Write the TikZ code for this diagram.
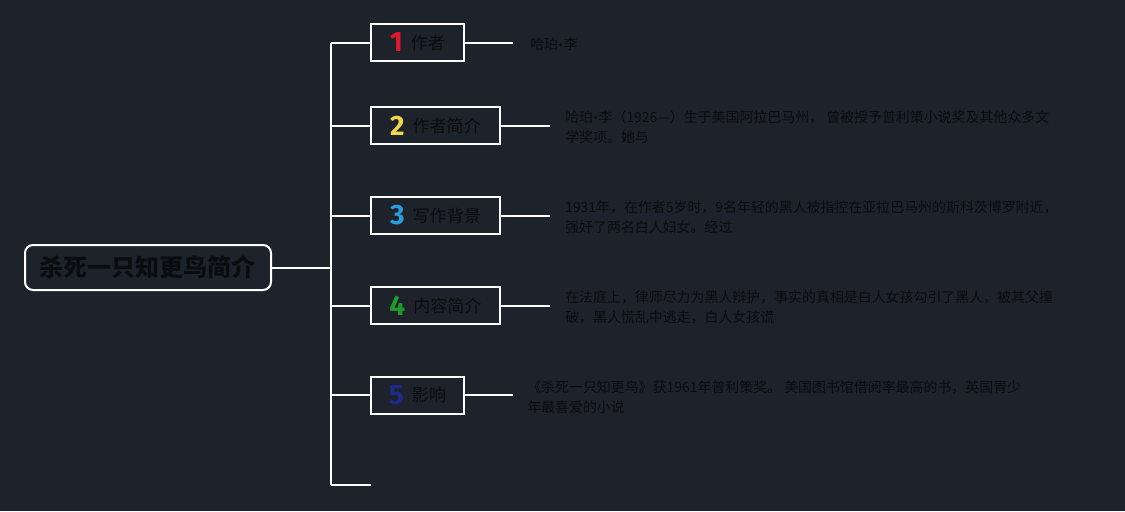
\documentclass[tikz,border=0pt]{standalone}
\usepackage{fontspec}
\setmainfont{Noto Sans CJK SC}
\newfontfamily\numfont{Fira Sans}
\newfontfamily\dotfont{DejaVu Sans}
\definecolor{bg}{HTML}{1E222A}
\definecolor{ink}{HTML}{0B0C0F}
\definecolor{cA}{HTML}{E0182C}
\definecolor{cB}{HTML}{EED84A}
\definecolor{cC}{HTML}{2A9BDC}
\definecolor{cD}{HTML}{1E9B2C}
\definecolor{cE}{HTML}{1C2A8C}
\tikzset{
  conn/.style={draw=white, line width=1.5pt},
  rootbox/.style={draw=white, line width=1.5pt, rounded corners=6pt, fill=bg, text=ink,
    minimum width=184.5pt, minimum height=33.75pt, inner sep=0pt,
    font=\fontsize{18pt}{20pt}\selectfont\bfseries},
  topic/.style={draw=white, line width=1.5pt, fill=bg, text=ink, inner sep=0pt,
    minimum height=27.75pt, font=\fontsize{12.8pt}{15pt}\selectfont},
  wide/.style={topic, minimum width=96.75pt},
  narrow/.style={topic, minimum width=69.75pt},
  desc/.style={text=ink, align=left, anchor=west, inner sep=0pt,
    font=\fontsize{10.45pt}{15pt}\selectfont}
}
\newcommand{\nm}[3]{{\numfont\bfseries\fontsize{21pt}{21pt}\selectfont\color{#1}#2}\hspace{6pt}\raisebox{1.8pt}{#3}}
\newcommand{\bul}{{\dotfont\fontsize{7pt}{7pt}\selectfont\raisebox{0.6pt}{•}}}
\begin{document}
\begin{tikzpicture}[x=0.75pt,y=-0.75pt]
\fill[bg] (0,0) rectangle (1125,511);
\useasboundingbox (0,0) rectangle (1125,511);

\node[rootbox] (root) at (148,267.5) {杀死一只知更鸟简介};

\node[narrow] (b1) at (417.5,42.5) {\nm{cA}{1}{作者}};
\node[wide] (b2) at (435.5,125.5) {\nm{cB}{2}{作者简介}};
\node[wide] (b3) at (435.5,215.5) {\nm{cC}{3}{写作背景}};
\node[wide] (b4) at (435.5,305.5) {\nm{cD}{4}{内容简介}};
\node[narrow] (b5) at (417.5,395) {\nm{cE}{5}{影响}};

\coordinate (t0) at (331,267.5);
\coordinate (t1) at (331,42.5);
\coordinate (t2) at (331,125.5);
\coordinate (t3) at (331,215.5);
\coordinate (t4) at (331,305.5);
\coordinate (t5) at (331,395);
\coordinate (t6) at (331,485);
\coordinate (e6) at (371,485);

\coordinate (e1) at (513,42.5);
\coordinate (e2) at (550,125.5);
\coordinate (e3) at (550,215.5);
\coordinate (e4) at (550,305.5);
\coordinate (e5) at (513,395);

\draw[conn] (root.east) -- (t0);
\draw[conn] (t1) -- (t6);
\draw[conn] (t1) -- (b1.west);
\draw[conn] (t2) -- (b2.west);
\draw[conn] (t3) -- (b3.west);
\draw[conn] (t4) -- (b4.west);
\draw[conn] (t5) -- (b5.west);
\draw[conn] (t6) -- (e6);

\draw[conn] (b1.east) -- (e1);
\draw[conn] (b2.east) -- (e2);
\draw[conn] (b3.east) -- (e3);
\draw[conn] (b4.east) -- (e4);
\draw[conn] (b5.east) -- (e5);

\node[desc] (d1) at (530,44) {哈珀\bul 李};
\node[desc] (d2) at (565,127) {哈珀\bul 李（1926—）生于美国阿拉巴马州， 曾被授予普利策小说奖及其他众多文\\学奖项。她与};
\node[desc] (d3) at (565,217) {1931年，在作者5岁时，9名年轻的黑人被指控在亚拉巴马州的斯科茨博罗附近，\\强奸了两名白人妇女。经过};
\node[desc] (d4) at (565,307) {在法庭上，律师尽力为黑人辩护，事实的真相是白人女孩勾引了黑人，被其父撞\\破，黑人慌乱中逃走，白人女孩谎};
\node[desc] (d5) at (527,397) {《杀死一只知更鸟》获1961年普利策奖。 美国图书馆借阅率最高的书，英国青少\\年最喜爱的小说};
\end{tikzpicture}
\end{document}
